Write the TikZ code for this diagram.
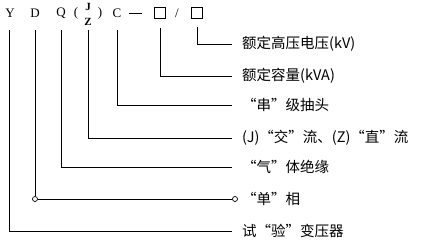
\documentclass[tikz,border=0pt]{standalone}
\usepackage{fontspec}
\newfontfamily\cjk{Noto Sans CJK SC}
\newfontfamily\codefont{Liberation Serif}
\usetikzlibrary{positioning,calc}
\definecolor{ink}{HTML}{000000}
\tikzset{
  letter/.style = {font=\codefont\fontsize{13}{15}\selectfont, text=ink, inner sep=0pt},
  box/.style    = {draw=ink, line width=0.8pt, minimum size=11pt, inner sep=0pt},
  note/.style   = {font=\cjk\fontsize{14.5}{17}\selectfont, text=ink, anchor=west, inner sep=0pt},
  lead/.style   = {draw=ink, line width=0.8pt},
  joint/.style  = {draw=ink, fill=white, circle, line width=0.7pt, minimum size=5pt, inner sep=0pt},
}

\begin{document}
\begin{tikzpicture}[x=1pt, y=1pt]
  \useasboundingbox (0,0) rectangle (432,244);

  % code letters on top
  \node[letter] (y)  at (10,231)  {Y};
  \node[letter] (d)  at (35,231)  {D};
  \node[letter] (q)  at (61,231)  {Q};
  \node[letter] (lp) at (76,231)  {(};
  \node[letter, font=\codefont\bfseries\fontsize{11}{12}\selectfont] (j) at (88,237) {J};
  \node[letter, font=\codefont\bfseries\fontsize{11}{12}\selectfont] (z) at (88,222) {Z};
  \node[letter] (rp) at (100,231) {)};
  \node[letter] (c)  at (117,231) {C};
  \coordinate (dash0) at (129,231);
  \coordinate (dash1) at (142,231);
  \node[box]    (b1) at (160,231) {};
  \node[letter] (sl) at (177,231) {/};
  \node[box]    (b2) at (197,231) {};
  \draw[lead] (dash0) -- (dash1);

  % meanings
  \node[note] (kv)   at (242,200) {额定高压电压(kV)};
  \node[note] (kva)  at (242,168) {额定容量(kVA)};
  \node[note] (tap)  at (242,139) {“串”级抽头};
  \node[note] (cur)  at (242,106) {(J)“交”流、(Z)“直”流};
  \node[note] (gas)  at (242,77)  {“气”体绝缘};
  \node[note] (ph)   at (242,45)  {“单”相};
  \node[note] (test) at (242,13)  {试“验”变压器};

  % bends
  \coordinate (kv0)   at (b2 |- kv);
  \coordinate (kva0)  at (b1 |- kva);
  \coordinate (tap0)  at (c |- tap);
  \coordinate (cur0)  at (z |- cur);
  \coordinate (gas0)  at (q |- gas);
  \coordinate (test0) at (9,13);
  \node[joint] (ph0) at (d |- ph) {};
  \node[joint] (ph1) at (235,45) {};

  \draw[lead] ([yshift=-8pt]b2.south) -- (kv0) -- ([xshift=-10pt]kv.west);
  \draw[lead] ([yshift=-9pt]b1.south) -- (kva0) -- ([xshift=-10pt]kva.west);
  \draw[lead] (117,214) -- (tap0) -- ([xshift=-10pt]tap.west);
  \draw[lead] (88,214) -- (cur0) -- ([xshift=-10pt]cur.west);
  \draw[lead] (61,214) -- (gas0) -- ([xshift=-10pt]gas.west);
  \draw[lead] (35,214) -- (ph0);
  \draw[lead] (ph0) -- (ph1);
  \draw[lead] (9,214) -- (test0) -- ([xshift=-10pt]test.west);
\end{tikzpicture}
\end{document}
